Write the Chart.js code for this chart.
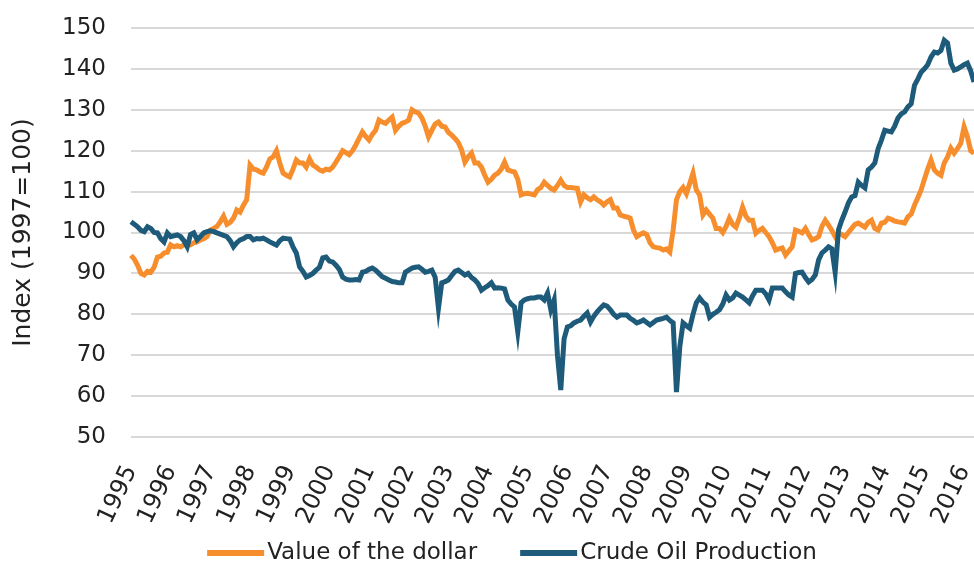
<!DOCTYPE html>
<html>
<head>
<meta charset="utf-8">
<script src="https://cdn.jsdelivr.net/npm/chart.js@4.4.1/dist/chart.umd.min.js"></script>
<style>
    html, body { margin: 0; padding: 0; background: #fff; }
    #wrap { width: 974px; height: 565px; }
</style>
</head>
<body>
<div id="wrap"><canvas id="myChart" width="974" height="565"></canvas></div>
<script>
// Meses de jan/1995 a abr/2016
const firstYear = 1995;
const monthCount = 256;
const months = [];
for (let i = 0; i < monthCount; i++) {
    const y = firstYear + Math.floor(i / 12);
    const m = (i % 12) + 1;
    months.push(y + '-' + (m < 10 ? '0' + m : m));
}

const seriesNames = ['Value of the dollar', 'Crude Oil Production'];

// Valor do dólar (1997=100)
const dollarValues = [
    94.4, 93.5, 92, 90, 89.6, 90.5, 90.3, 91.5, 94, 94.2, 95, 95.2,
    97, 96.5, 96.8, 96.5, 97, 97.2, 97, 97.5, 97.7, 98.2, 98.5, 99,
    100.6, 101, 101.5, 102.6, 104, 102, 102.5, 103.5, 105.5, 105, 106.7, 108,
    116.5, 115.5, 115.3, 114.8, 114.5, 116, 118, 118.5, 120, 117, 114.5, 114,
    113.6, 115.5, 117.7, 117, 117, 116, 118, 116.5, 116, 115.3, 115, 115.5,
    115.3, 116, 117.2, 118.5, 120, 119.5, 119, 120, 121.4, 123, 124.6, 123.5,
    122.6, 124, 125, 127.5, 127, 126.7, 127.5, 128.2, 125, 126, 126.7, 127,
    127.5, 130, 129.5, 129.2, 128, 126, 123.4, 125, 126.5, 127, 126, 125.8,
    124.5, 123.8, 123, 122, 120.2, 117.2, 118.5, 119.4, 117, 117, 116, 114,
    112.3, 113, 114, 114.5, 115.5, 117.2, 115.3, 115, 114.8, 113, 109.2, 109.5,
    109.6, 109.4, 109.2, 110.5, 111, 112.3, 111.5, 110.8, 110.4, 111.5, 112.8, 111.5,
    111, 111, 110.9, 110.8, 107.5, 109.2, 108.5, 108, 108.7, 108, 107.5, 106.7,
    107.5, 108, 106, 106, 104.3, 104, 103.8, 103.5, 100.6, 99, 99.5, 99.9,
    99.5, 97.5, 96.5, 96.3, 96.2, 95.7, 96, 95.2, 100.6, 108, 110, 111,
    109.5, 112, 114.5, 110.4, 109.2, 104.3, 105.5, 104.5, 103.5, 101, 101, 100,
    101.5, 103.5, 102, 101.3, 103.5, 106.2, 104, 103, 103, 99.8, 100.5, 101,
    100, 99, 97.5, 95.7, 96, 96.2, 94.5, 95.5, 96.5, 100.6, 100.3, 99.9,
    101, 99.5, 98.2, 98.5, 99, 101.5, 103, 101.8, 100.5, 99, 99.9, 99.5,
    99, 100, 101, 102, 102.3, 101.8, 101.3, 102.5, 103, 101, 100.6, 102.3,
    102.5, 103.5, 103.2, 102.8, 102.6, 102.5, 102.3, 103.8, 104.5, 106.7, 108.5, 110.4,
    113, 115.5, 117.7, 115.3, 114.5, 114, 117, 118.5, 120.6, 119.4, 120.5, 121.8,
    125.8, 123.4, 120, 119.4
];

// Produção de petróleo (1997=100)
const oilValues = [
    102.6, 102, 101.4, 100.5, 100.2, 101.4, 101, 100, 99.9, 98.5, 97.7, 99.9,
    99, 99.2, 99.4, 99, 98, 96.5, 99.5, 99.9, 98.2, 99, 99.9, 100.2,
    100.4, 100.2, 99.9, 99.6, 99.3, 99, 98, 96.5, 97.5, 98.2, 98.5, 99,
    99, 98.2, 98.5, 98.4, 98.6, 98.2, 97.7, 97.3, 96.9, 98, 98.6, 98.5,
    98.4, 96.5, 95, 91.6, 90.5, 89.1, 89.5, 90, 90.8, 91.5, 93.8, 94,
    93, 92.8, 92, 91, 89.1, 88.6, 88.4, 88.4, 88.5, 88.4, 90.3, 90.5,
    91, 91.3, 90.8, 90, 89.2, 88.8, 88.4, 88, 87.9, 87.7, 87.7, 90.3,
    90.8, 91.3, 91.5, 91.6, 91, 90.3, 90.5, 90.8, 89.1, 81.5, 87.7, 88,
    88.4, 89.5, 90.5, 90.8, 90.2, 89.6, 90, 89, 88.4, 87.5, 85.9, 86.5,
    87, 87.7, 86.4, 86.5, 86.4, 86.2, 83.5, 82.5, 81.8, 75.7, 82.8, 83.5,
    83.8, 84, 84, 84.2, 84.2, 83.5, 85.2, 81.1, 83.5, 70, 61.5, 74,
    76.9, 77.2, 77.9, 78.3, 78.6, 79.5, 80.3, 78.1, 79.5, 80.6, 81.5, 82.3,
    82, 81.1, 80, 79.3, 79.8, 79.8, 79.8, 79, 78.5, 77.9, 78.2, 78.6,
    78, 77.4, 78, 78.6, 78.8, 79, 79.3, 78.5, 77.9, 61, 72, 77.9,
    77.2, 76.6, 80, 82.8, 84, 83, 82.3, 79.3, 80, 80.5, 81.1, 82.5,
    84.7, 83.5, 84, 85.2, 84.7, 84.2, 83.5, 82.8, 84.5, 85.9, 85.9, 85.9,
    85, 83.5, 86.4, 86.4, 86.4, 86.4, 85.5, 84.7, 84.2, 90, 90.2, 90.3,
    89, 87.9, 88.5, 89.6, 93.3, 95, 95.7, 96.5, 96, 90.3, 100.6, 103,
    105, 107.2, 108.7, 109, 112.3, 111.5, 110.9, 115.3, 116, 117, 120.5, 122.6,
    125, 124.8, 124.6, 126, 128, 129, 129.5, 130.7, 131.5, 136, 137.5, 139.2,
    140, 141, 142.9, 144.1, 143.9, 144.5, 147, 146.3, 141.4, 139.7, 140, 140.5,
    141, 141.4, 139.5, 136.8
];

const yMin = 50;
const yMax = 150;
const yStep = 10;

const orange = '#F78E2D';
const blue = '#1E5B7B';
const fontFamily = '"DejaVu Sans", sans-serif';

// Legenda desenhada à mão (traço + texto bem junto, como no original)
const lineLegend = {
    id: 'lineLegend',
    afterDraw(chart) {
        const c = chart.ctx;
        const sw = 57, gap = 3, spacing = 43, yMid = 553;
        c.save();
        c.font = '23px ' + fontFamily;
        c.textBaseline = 'middle';
        c.textAlign = 'left';
        const items = chart.data.datasets.map(ds => ({
            text: ds.label, color: ds.borderColor, w: c.measureText(ds.label).width
        }));
        let total = 0;
        items.forEach((it, i) => { total += sw + gap + it.w + (i > 0 ? spacing : 0); });
        let x = 512 - total / 2;
        items.forEach(it => {
            c.fillStyle = it.color;
            c.fillRect(x, yMid - 3, sw, 6);
            c.fillStyle = '#222';
            c.fillText(it.text, x + sw + gap, yMid);
            x += sw + gap + it.w + spacing;
        });
        c.restore();
    }
};

function buildChart() {
    const ctx = document.getElementById('myChart');

    new Chart(ctx, {
        type: 'line',
        data: {
            labels: months,
            datasets: [{
                label: seriesNames[0],
                data: dollarValues,
                borderColor: orange,
                backgroundColor: orange,
                borderWidth: 5,
                pointRadius: 0,
                tension: 0,
                order: 2
            }, {
                label: seriesNames[1],
                data: oilValues,
                borderColor: blue,
                backgroundColor: blue,
                borderWidth: 5,
                pointRadius: 0,
                tension: 0,
                order: 1
            }]
        },
        options: {
            responsive: false,
            animation: false,
            layout: { padding: 0 },
            plugins: {
                tooltip: { enabled: false },
                legend: { display: false }
            },
            scales: {
                x: {
                    afterFit: (scale) => {
                        scale.paddingLeft = 0;
                        scale.paddingRight = 0;
                        scale.height = 128;
                    },
                    grid: { display: false },
                    border: { display: false },
                    ticks: {
                        autoSkip: false,
                        minRotation: 65,
                        maxRotation: 65,
                        padding: 16,
                        color: '#222',
                        font: { family: fontFamily, size: 24 },
                        callback: function (value, index) {
                            const lbl = months[index];
                            return lbl.endsWith('-01') ? lbl.slice(0, 4) : '';
                        }
                    }
                },
                y: {
                    min: yMin,
                    max: yMax,
                    afterFit: (scale) => {
                        scale.width = 131;
                        scale.paddingTop = 28;
                        scale.paddingBottom = 0;
                    },
                    grid: { color: '#d9d9d9', lineWidth: 2, drawTicks: false },
                    border: { display: false },
                    ticks: {
                        stepSize: yStep,
                        padding: 25,
                        color: '#222',
                        font: { family: fontFamily, size: 23 }
                    },
                    title: {
                        display: true,
                        text: 'Index (1997=100)',
                        color: '#222',
                        font: { family: fontFamily, size: 25 },
                        padding: { top: 8, bottom: 0 }
                    }
                }
            }
        },
        plugins: [lineLegend]
    });
}

buildChart();
</script>
</body>
</html>
